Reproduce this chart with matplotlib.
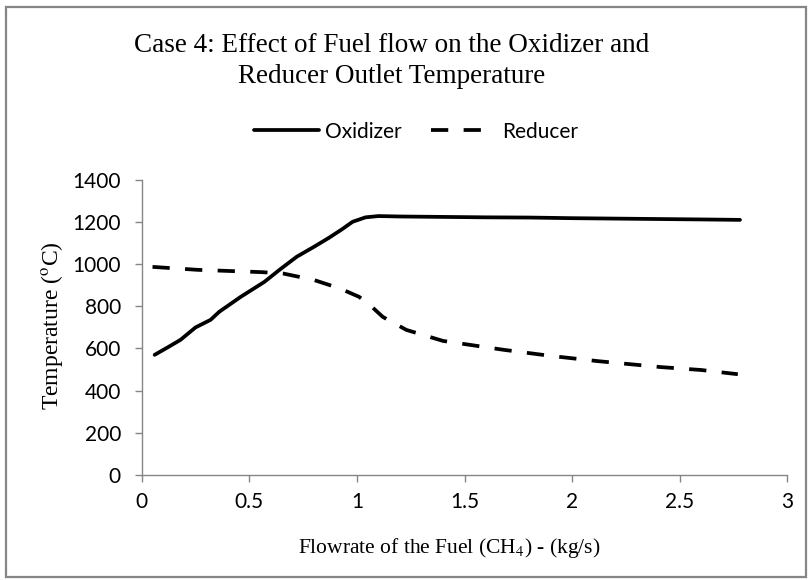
import matplotlib
matplotlib.use("Agg")
import matplotlib.pyplot as plt
from matplotlib.patches import Rectangle

# Data
ox_x = [0.06, 0.12, 0.18, 0.25, 0.32, 0.36, 0.46, 0.57, 0.64, 0.72, 0.80, 0.87, 0.93, 0.98, 1.04, 1.10, 1.20, 1.40, 1.60, 1.80, 2.00, 2.20, 2.40, 2.60, 2.78]
ox_y = [570, 605, 641, 700, 736, 774, 845, 916, 973, 1035, 1082, 1125, 1165, 1201, 1222, 1228, 1226, 1224, 1222, 1221, 1218, 1216, 1214, 1212, 1210]

red_x = [0.05, 0.26, 0.56, 0.66, 0.80, 0.92, 1.01, 1.07, 1.12, 1.23, 1.40, 1.68, 1.90, 2.12, 2.41, 2.60, 2.77]
red_y = [987, 973, 962, 955, 925, 885, 845, 797, 750, 688, 636, 594, 565, 540, 512, 498, 478]

title_lines = ["Case 4: Effect of Fuel flow on the Oxidizer and",
               "Reducer Outlet Temperature"]
xlabel = "Flowrate of the Fuel (CH$_4$) - (kg/s)"
ylabel = "Temperature ($^{\\mathrm{o}}$C)"
xticks = [0, 0.5, 1, 1.5, 2, 2.5, 3]
xticklabels = ["0", "0.5", "1", "1.5", "2", "2.5", "3"]
yticks = [0, 200, 400, 600, 800, 1000, 1200, 1400]

plt.rcParams['mathtext.fontset'] = 'stix'
serif = ['Liberation Serif', 'DejaVu Serif']
sans = ['Lato', 'Liberation Sans', 'DejaVu Sans']

fig = plt.figure(figsize=(8.1, 5.8), dpi=100)
ax = fig.add_axes([0.175, 0.181, 0.797, 0.509])

ax.plot(ox_x, ox_y, color='black', lw=2.7, label='Oxidizer', solid_capstyle='round')
ax.plot(red_x, red_y, color='black', lw=2.7, label='Reducer', dashes=(4.6, 4.1))

ax.set_xlim(0, 3)
ax.set_ylim(0, 1400)
ax.set_xticks(xticks)
ax.set_xticklabels(xticklabels)
ax.set_yticks(yticks)

grey = '#868686'
for s in ['top', 'right']:
    ax.spines[s].set_visible(False)
for s in ['left', 'bottom']:
    ax.spines[s].set_color(grey)
    ax.spines[s].set_linewidth(1.0)
ax.tick_params(axis='both', colors=grey, direction='out', length=5, width=1.0,
               labelcolor='black', labelsize=15)
ax.tick_params(axis='x', pad=7)
ax.tick_params(axis='y', pad=10)
for lab in ax.get_xticklabels() + ax.get_yticklabels():
    lab.set_family(sans)

ax.set_xlabel(xlabel, fontsize=15.5, family=serif)
ax.set_ylabel(ylabel, fontsize=17, family=serif)
ax.xaxis.set_label_coords(0.476, -0.247)
ax.xaxis.label.set_va('center')
ax.yaxis.set_label_coords(-0.1395, 0.505)
ax.yaxis.label.set_va('center')

fig.text(0.484, 1 - 52 / 580, title_lines[0], ha='center', va='baseline',
         fontsize=19.5, family=serif)
fig.text(0.484, 1 - 83 / 580, title_lines[1], ha='center', va='baseline',
         fontsize=19.5, family=serif)

leg = ax.legend(loc='center', bbox_to_anchor=(0.425, 1.163), ncol=2, frameon=False,
                prop={'family': sans, 'size': 15}, handlelength=3.1,
                handletextpad=0.3, columnspacing=1.4)

fig.patches.append(Rectangle((6 / 810, 1 - 577 / 580), 800 / 810, 570 / 580,
                             transform=fig.transFigure, fill=False,
                             edgecolor=grey, lw=1.6))

fig.savefig('out.png', dpi=100)
